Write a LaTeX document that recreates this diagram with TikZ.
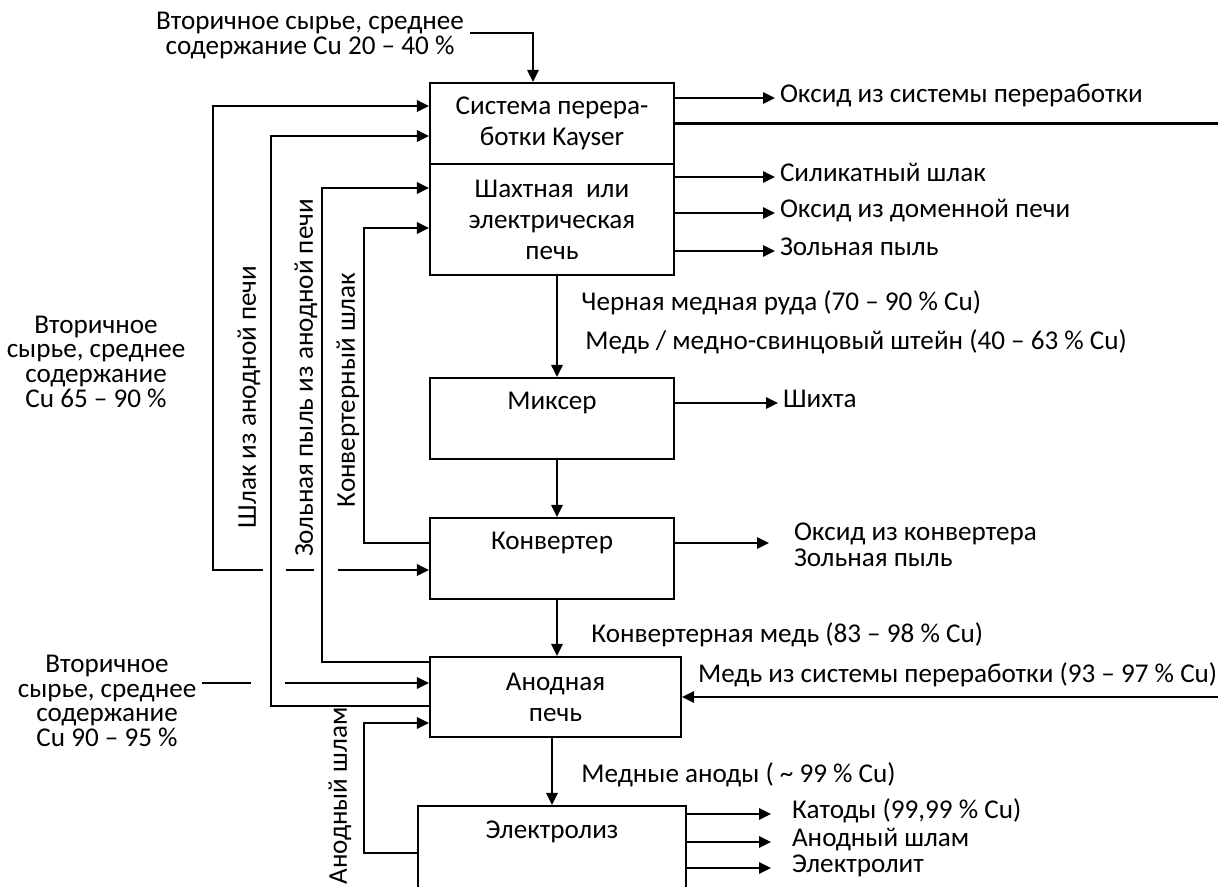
\documentclass[tikz,border=0pt]{standalone}
\usepackage{fontspec}
\setmainfont{Carlito}
\usetikzlibrary{arrows.meta,positioning,calc}

\begin{document}
\begin{tikzpicture}[>={Triangle[length=0.3cm,width=0.28cm]},line width=1.45pt,inner sep=1pt,font=\fontsize{19.3}{17.6}\selectfont]
\tikzstyle{blk}=[draw,minimum width=6.1cm,minimum height=2.025cm,inner sep=0pt,align=center,font=\fontsize{19.3}{22}\selectfont]
\tikzstyle{topline}=[text depth=0.9cm]
\tikzstyle{outl}=[anchor=west,inner sep=0.1cm,text height=1.6ex,text depth=0.3ex]
\tikzstyle{vtxt}=[rotate=90,inner sep=0pt]
\useasboundingbox (0,0) rectangle (30.45,-22.175);
% process boxes
\node[blk] (kay) at (13.8,-3.0875) {Система перера-\\ботки Kayser};
\node[blk,minimum height=2.775cm] (shaft) at (13.8,-5.4875) {Шахтная~ или\\электрическая\\печь};
\node[blk,topline] (mixer) at (13.8,-10.4625) {Миксер};
\node[blk,topline] (conv) at (13.8,-13.9625) {Конвертер};
\node[blk,minimum width=6.275cm,minimum height=2cm] (anode) at (13.8875,-17.425) {Анодная\\печь};
\node[blk,topline,minimum width=6.7cm,minimum height=2.1cm] (elec) at (13.8,-21.2) {Электролиз};
% inputs on the left
\node[align=center] (in1) at (7.75,-0.8875) {Вторичное сырье, среднее\\содержание Cu 20 – 40 \%};
\node[align=center] (in2) at (2.4,-9.04) {Вторичное\\сырье, среднее\\содержание\\Cu 65 – 90 \%};
\node[align=center] (in3) at (2.675,-17.525) {Вторичное\\сырье, среднее\\содержание\\Cu 90 – 95 \%};
\coordinate (in1e) at (11.75,-0.825);
\coordinate (in3e) at (5.05,-17.075); \coordinate (h1) at (6.275,-17.075); \coordinate (h2) at (7.125,-17.075);
\coordinate (g1) at (6.575,-14.25); \coordinate (g2) at (7.15,-14.25); \coordinate (g3) at (7.85,-14.25); \coordinate (g4) at (8.45,-14.25);
\draw[->] (in1e) -| ([xshift=-0.475cm]kay.north);
\draw (in3e) -- (h1); \draw[->] (h2) -- (anode.west |- h2);
% returns on the left
\draw[->] (g1) -- (5.325,-14.25) |- ([yshift=0.4375cm]kay.west);
\draw (g2) -- (g3); \draw[->] (g4) -- (conv.west |- g4);
\draw[->] ([yshift=-0.225cm]anode.west) -| (6.775,-3.4) -- ([yshift=-0.3125cm]kay.west);
\draw[->] ([yshift=0.875cm]anode.west) -| (8.05,-4.7) -- ([yshift=0.7875cm]shaft.west);
\draw[->] ([yshift=0.3875cm]conv.west) -| (9.1,-5.7) -- ([yshift=-0.2125cm]shaft.west);
\draw[->] ([yshift=-0.125cm]elec.west) -| (9.1,-18.075) -- ([yshift=-0.65cm]anode.west);
\node[vtxt] (lsl) at (6.225,-9.925) {Шлак из анодной печи};
\node[vtxt] (lash) at (7.65,-9.45) {Зольная пыль из анодной печи};
\node[vtxt] (lcs) at (8.7,-9.75) {Конвертерный шлак};
\node[vtxt] (las) at (8.5,-19.9) {Анодный шлам};
% main line
\draw[->] ([xshift=0.125cm]shaft.south) -- ([xshift=0.125cm]mixer.north);
\draw[->] ([xshift=0.125cm]mixer.south) -- ([xshift=0.125cm]conv.north);
\draw[->] ([xshift=0.125cm]conv.south) -- ([xshift=0.125cm]conv.south |- anode.north);
\draw[->] (elec.north |- anode.south) -- (elec.north);
\node[anchor=west] (bcu) at (14.475,-7.575) {Черная медная руда (70 – 90 \% Cu)};
\node[anchor=west] (mat) at (14.575,-8.55) {Медь / медно-свинцовый штейн (40 – 63 \% Cu)};
\node[anchor=west] (ccu) at (14.725,-15.875) {Конвертерная медь (83 – 98 \% Cu)};
\node[anchor=west] (anc) at (14.475,-19.375) {Медные аноды ( \textasciitilde{} 99 \% Cu)};
% outputs on the right
\node[outl] (oxk) at (19.375,-2.45) {Оксид из системы переработки};
\node[outl] (slag) at (19.375,-4.425) {Силикатный шлак};
\node[outl] (oxd) at (19.375,-5.325) {Оксид из доменной печи};
\node[outl] (ash) at (19.375,-6.275) {Зольная пыль};
\node[outl] (chg) at (19.45,-10.075) {Шихта};
\node[anchor=west,align=left,inner sep=0.1cm,font=\fontsize{19.3}{18.5}\selectfont] (oxc) at (19.725,-13.625) {Оксид из конвертера\\Зольная пыль};
\node[outl] (cat) at (19.675,-20.35) {Катоды (99,99 \% Cu)};
\node[outl] (asl) at (19.675,-21.05) {Анодный шлам};
\node[outl] (ely) at (19.675,-21.7) {Электролит};
\draw[->] (kay.east |- oxk.west) -- (oxk.west);
\draw[->] (shaft.east |- slag.west) -- (slag.west); \draw[->] (shaft.east |- oxd.west) -- (oxd.west); \draw[->] (shaft.east |- ash.west) -- (ash.west);
\draw[->] (mixer.east |- chg.west) -- (chg.west);
\draw[->,shorten >=0.5cm] ([yshift=0.3875cm]conv.east) -- ([yshift=0.3875cm]conv.east -| oxc.west);
\draw[->,shorten >=0.4cm] (elec.east |- cat.west) -- (cat.west); \draw[->,shorten >=0.4cm] (elec.east |- asl.west) -- (asl.west); \draw[->,shorten >=0.4cm] (elec.east |- ely.west) -- (ely.west);
% copy back from the Kayser system
\node (cur) at (23.94,-16.875) {Медь из системы переработки (93 – 97 \% Cu)};
\draw[->] (kay.east) -- (30.6,-3.0875) |- (anode.east);
\end{tikzpicture}
\end{document}
